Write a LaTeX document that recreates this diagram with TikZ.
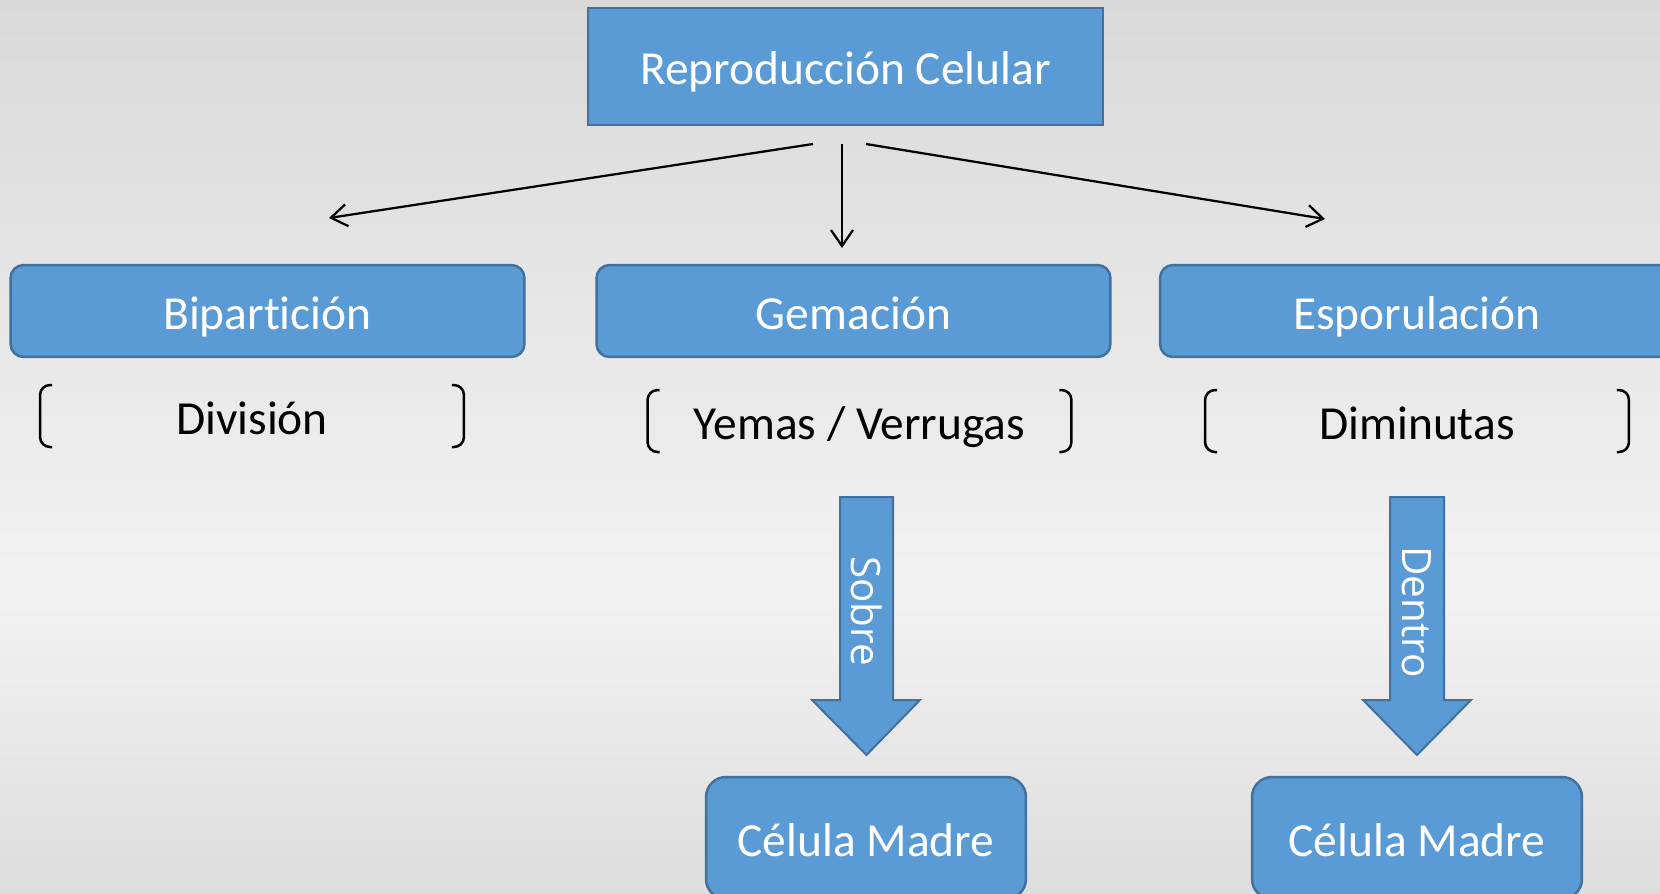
\documentclass[tikz,border=0pt]{standalone}
\usepackage{fontspec}
\setmainfont{Carlito}[Ligatures=NoCommon]
\newfontfamily\armfont{Open Sans}
\usepackage{tikz}
\usetikzlibrary{arrows.meta}

\definecolor{cellblue}{RGB}{91,155,213}
\definecolor{celledge}{RGB}{65,113,156}
\definecolor{bgtop}{RGB}{217,217,217}
\definecolor{bgmid}{RGB}{242,242,242}
\definecolor{bgbottom}{RGB}{221,221,221}

\newcommand{\bigfont}{\fontsize{27}{32}\selectfont}
\newcommand{\armtext}{\armfont\fontsize{23}{28}\selectfont}

\tikzset{
  boxbase/.style={fill=cellblue, draw=celledge, line width=0.05cm, text=white,
    font=\bigfont, text height=20.5pt, text depth=0pt, inner sep=0pt, outer sep=0pt},
  topbox/.style={boxbase, minimum width=10.3cm, minimum height=2.34cm},
  kindbox/.style={boxbase, rounded corners=0.26cm, minimum width=10.28cm, minimum height=1.84cm},
  cellbox/.style={boxbase, rounded corners=0.4cm, minimum height=2.44cm},
  bracketrow/.style={font=\bigfont, text height=20.5pt, text depth=0pt, inner sep=0pt,
    outer sep=0pt, minimum width=8.48cm, minimum height=1.24cm},
  bracket/.style={line width=0.05cm, rounded corners=0.2cm},
  link/.style={line width=0.045cm, -{Straight Barb[length=0.32cm, width=0.44cm]}},
  blockarrow/.style={fill=cellblue, draw=celledge, line width=0.04cm},
  armlabel/.style={font=\armtext, text=white, rotate=-90, inner sep=0pt}
}

\begin{document}
\begin{tikzpicture}[x=0.02cm, y=-0.02cm]
        \useasboundingbox (0,0) rectangle (1660,893);
        \clip (0,0) rectangle (1660,893);

        % background
        \shade[top color=bgtop, bottom color=bgmid] (0,0) rectangle (1660,591);
        \shade[top color=bgmid, bottom color=bgbottom] (0,590) rectangle (1660,893);

        % top
        \node[topbox] (repro) at (845.5,66.5) {Reproducción Celular};

        % kinds
        \node[kindbox] (bip) at (267.5,311) {Bipartición};
        \node[kindbox] (gem) at (853.5,311) {Gemación};
        \node[kindbox] (esp) at (1417,311) {Esporulación};

        % links
        \coordinate (l0) at (813,144);
        \coordinate (l1) at (329,218);
        \coordinate (m0) at (842,144);
        \coordinate (m1) at (842,248);
        \coordinate (r0) at (866,144);
        \coordinate (r1) at (1325,219);
        \draw[link] (l0) -- (l1);
        \draw[link] (m0) -- (m1);
        \draw[link] (r0) -- (r1);

        % brackets
        \node[bracketrow] (div) at (252,416) {División};
        \node[bracketrow] (yem) at (859.5,421) {Yemas / Verrugas};
        \node[bracketrow] (dim) at (1417,421) {Diminutas};
        \foreach \b in {div, yem, dim} {
          \draw[bracket] ([xshift=0.24cm]\b.north west) -- (\b.north west)
            -- (\b.south west) -- ([xshift=0.24cm]\b.south west);
          \draw[bracket] ([xshift=-0.24cm]\b.north east) -- (\b.north east)
            -- (\b.south east) -- ([xshift=-0.24cm]\b.south east);
        }

        % block arrows
        \draw[blockarrow] (840,497) -- (893,497) -- (893,700) -- (920,700)
          -- (866.5,755) -- (812,700) -- (840,700) -- cycle;
        \node[armlabel] (sobre) at (867,611) {Sobre};
        \draw[blockarrow] (1390,497) -- (1444,497) -- (1444,700) -- (1471,700)
          -- (1417,755) -- (1363,700) -- (1390,700) -- cycle;
        \node[armlabel] (dentro) at (1417,612) {Dentro};

        % mother cells
        \node[cellbox, minimum width=6.4cm] (madre1) at (866,838) {Célula Madre};
        \node[cellbox, minimum width=6.6cm] (madre2) at (1417,838) {Célula Madre};
\end{tikzpicture}
\end{document}
